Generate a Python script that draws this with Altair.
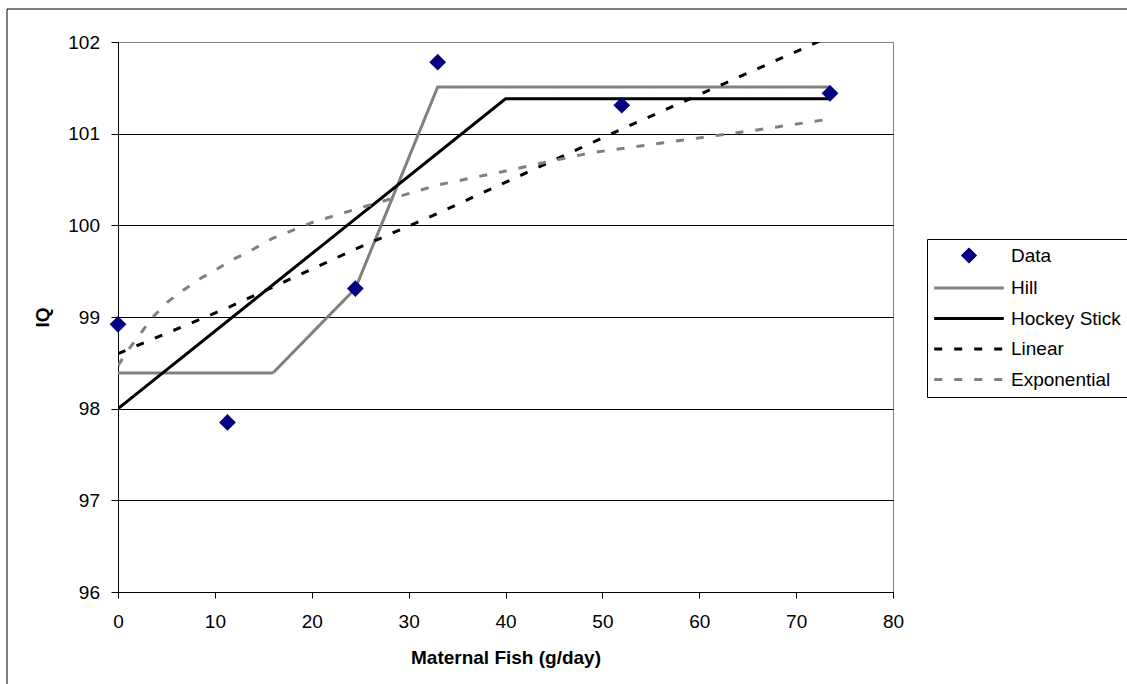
import altair as alt
import pandas as pd

FONT = "Liberation Sans"

# Observed group means: maternal fish intake (g/day) vs child IQ
fish_intake = [0, 11.3, 24.5, 33, 52, 73.5]
iq_observed = [98.92, 97.85, 99.31, 101.78, 101.31, 101.44]

# Fitted dose-response models
hill_x = [0, 16, 24.5, 33, 73.5]
hill_iq = [98.39, 98.39, 99.31, 101.51, 101.51]

hockey_x = [0, 40, 73.5]
hockey_iq = [98.0, 101.38, 101.38]

linear_x = [0, 11.3, 24.5, 33, 52, 73.5]
linear_iq = [98.6, 99.1, 99.74, 100.13, 101.05, 102.06]

expo_x = [0, 1.2, 3.6, 5.2, 6.7, 8.5, 10.2, 11.7, 13.3, 16, 20, 25, 33, 39.4,
          48.7, 56.3, 66.6, 73.5]
expo_iq = [98.47, 98.66, 99.0, 99.17, 99.29, 99.42, 99.52, 99.62, 99.7, 99.86,
           100.03, 100.19, 100.44, 100.58, 100.79, 100.9, 101.05, 101.16]

series_names = ["Data", "Hill", "Hockey Stick", "Linear", "Exponential"]
series_colors = ["#000080", "#808080", "#000000", "#000000", "#808080"]

x_ticks = list(range(0, 81, 10))
y_ticks = list(range(96, 103))

points = pd.DataFrame({"x": fish_intake, "iq": iq_observed, "series": "Data"})

fits = pd.concat([
    pd.DataFrame({"x": hill_x, "iq": hill_iq, "series": "Hill"}),
    pd.DataFrame({"x": hockey_x, "iq": hockey_iq, "series": "Hockey Stick"}),
    pd.DataFrame({"x": linear_x, "iq": linear_iq, "series": "Linear"}),
    pd.DataFrame({"x": expo_x, "iq": expo_iq, "series": "Exponential"}),
], ignore_index=True)

# Legend swatch for fitted curves: a short horizontal stroke
SWATCH = "M-5.8,0H5.8"

legend = alt.Legend(
    title=None,
    orient="none",
    legendX=809,
    legendY=197,
    padding=7,
    strokeColor="black",
    fillColor="white",
    labelFont=FONT,
    labelFontSize=19,
    labelColor="black",
    labelOffset=32.5,
    symbolOffset=25.5,
    symbolSize=144,
    symbolStrokeWidth=3,
    symbolOpacity=1,
    rowPadding=10.5,
)

color_scale = alt.Scale(domain=series_names, range=series_colors)
shape_scale = alt.Scale(domain=series_names,
                        range=["diamond", SWATCH, SWATCH, SWATCH, SWATCH])
dash_scale = alt.Scale(
    domain=series_names,
    range=[[1, 0], [1, 0], [1, 0], [8, 12], [8, 12]],
)

x_enc = alt.X(
    "x:Q",
    scale=alt.Scale(domain=[0, 80], nice=False),
    axis=alt.Axis(
        values=x_ticks,
        title="Maternal Fish (g/day)",
        grid=False,
        tickSize=6,
        labelFlush=False,
        labelBaseline="middle",
        labelPadding=23,
        titleY=65,
        titleBaseline="middle",
    ),
)
y_enc = alt.Y(
    "iq:Q",
    scale=alt.Scale(domain=[96, 102], nice=False),
    axis=alt.Axis(
        values=y_ticks,
        title="IQ",
        grid=True,
        gridColor={"condition": {"test": "datum.value >= 102", "value": "#808080"},
                   "value": "#000000"},
        tickSize=7,
        labelFlush=False,
        labelPadding=11.5,
        titleAngle=-90,
        titleX=-76,
        titleY=275,
        titleAlign="center",
        titleBaseline="middle",
    ),
)

# Chart frame around the whole figure
frame = alt.Chart(alt.Data(values=[{}])).mark_rect(
    filled=False, stroke="black", strokeWidth=1, clip=False
).encode(
    x=alt.value(-111), x2=alt.value(1300), y=alt.value(-33), y2=alt.value(900)
)

lines = alt.Chart(fits).mark_line(strokeWidth=3, clip=True, strokeCap="butt").encode(
    x=x_enc,
    y=y_enc,
    color=alt.Color("series:N", scale=color_scale, legend=legend),
    strokeDash=alt.StrokeDash("series:N", scale=dash_scale, legend=legend),
)

dots = alt.Chart(points).mark_point(filled=True, size=280, opacity=1).encode(
    x=x_enc,
    y=y_enc,
    color=alt.Color("series:N", scale=color_scale, legend=legend),
    shape=alt.Shape("series:N", scale=shape_scale, legend=legend),
)

chart = alt.layer(frame, lines, dots).properties(
    width=775,
    height=550,
    padding={"left": 118, "top": 42, "right": 234, "bottom": 92},
    autosize=alt.AutoSizeParams(type="none"),
).configure(
    font=FONT,
    background="white",
).configure_view(
    stroke="#808080",
    strokeWidth=1,
).configure_axis(
    labelFont=FONT,
    labelFontSize=19,
    labelColor="black",
    titleFont=FONT,
    titleFontSize=19,
    titleFontWeight="bold",
    titleColor="black",
    domainColor="black",
    domainWidth=1,
    tickColor="black",
    tickWidth=1,
    gridWidth=1,
    gridOpacity=1,
)

chart.save("out.html", embed_options={"renderer": "svg", "actions": False})
